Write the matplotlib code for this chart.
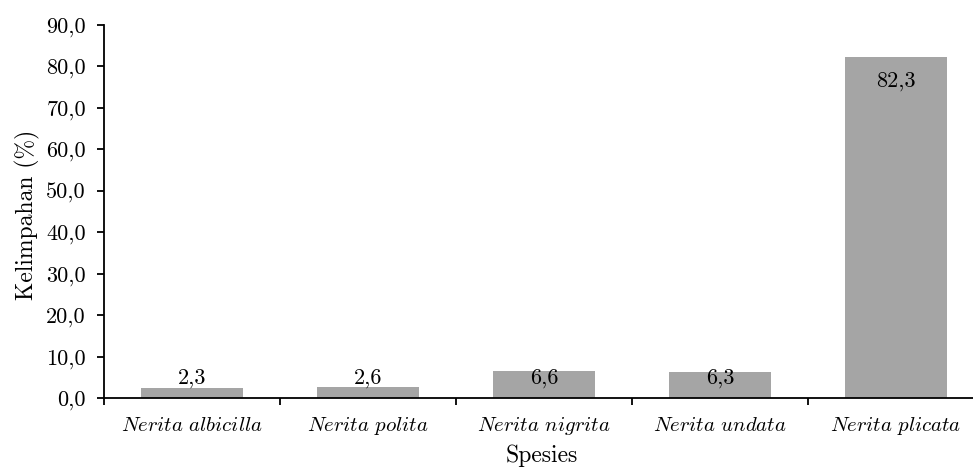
import matplotlib
matplotlib.use("Agg")
import matplotlib.pyplot as plt
import numpy as np

species = ["Nerita albicilla", "Nerita polita", "Nerita nigrita", "Nerita undata", "Nerita plicata"]
values = [2.3, 2.6, 6.6, 6.3, 82.3]
yticks = [0, 10, 20, 30, 40, 50, 60, 70, 80, 90]

plt.rcParams['mathtext.fontset'] = 'cm'
plt.rcParams['font.family'] = ['cmr10', 'DejaVu Serif']
plt.rcParams['axes.unicode_minus'] = False

fig = plt.figure(figsize=(9.73, 4.68), dpi=100)
W, H = 973, 468
ax = fig.add_axes([104 / W, (H - 398) / H, 880 / W, 373 / H])

x = np.arange(len(species))
ax.bar(x, values, width=0.575, color='#a5a5a5', edgecolor='none', zorder=2)

ax.set_xlim(-0.5, len(species) - 0.5)
ax.set_ylim(0, 90)
ax.set_yticks(yticks)
ax.set_yticklabels([f"{t:.1f}".replace('.', ',') for t in yticks], fontsize=16)

ax.set_xticks(np.arange(len(species) + 1) - 0.5)
ax.set_xticklabels([])
ax.set_xticks(x, minor=True)
ax.set_xticklabels([r'$\mathit{' + s.replace(' ', r'\ ') + '}$' for s in species],
                   minor=True, fontsize=15)
for lab in ax.get_xticklabels(minor=True):
    lab.set_va('baseline')
ax.tick_params(axis='x', which='minor', length=0, pad=23.8)
ax.tick_params(axis='x', which='major', length=5, width=1.3, direction='out')
ax.tick_params(axis='y', which='major', length=5, width=1.3, direction='out', pad=8)

for s in ['top', 'right']:
    ax.spines[s].set_visible(False)
for s in ['left', 'bottom']:
    ax.spines[s].set_linewidth(1.3)
    ax.spines[s].set_color('black')

for xi, v in zip(x, values):
    ypos = max(v - 5.8, 4.8)
    ax.text(xi, ypos, f"{v:.1f}".replace('.', ','), ha='center', va='center',
            fontsize=16, zorder=3)

ax.set_ylabel("Kelimpahan (%)", fontsize=17, va='center')
ax.yaxis.set_label_coords(-0.087, 0.49)
ax.set_xlabel("Spesies", fontsize=17, va='center')
ax.xaxis.set_label_coords(0.497, -0.155)

fig.savefig("out.png", dpi=100)
